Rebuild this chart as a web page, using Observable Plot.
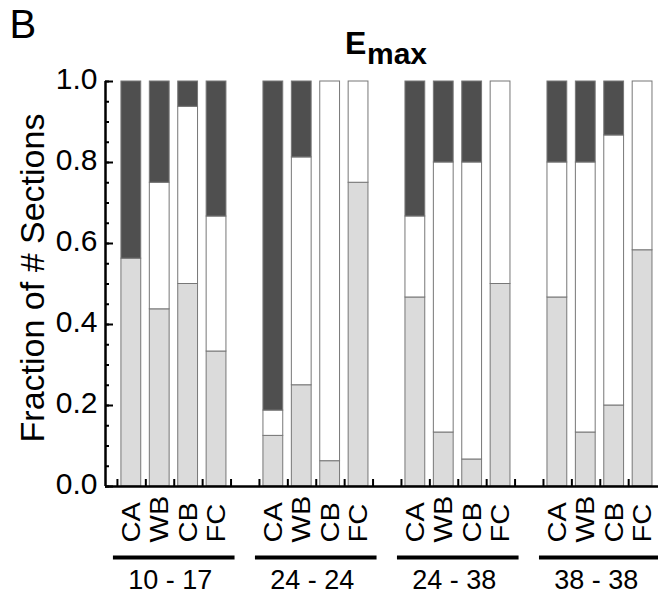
<!DOCTYPE html>
<html><head><meta charset="utf-8">
<script src="https://cdn.jsdelivr.net/npm/d3@7"></script>
<script src="https://cdn.jsdelivr.net/npm/@observablehq/plot@0.6"></script>
<style>body{margin:0;background:#fff;} #chart{position:relative;width:658px;height:594px;}</style>
</head><body><div id="chart"></div>
<script>
// ---- data ----
const groups = ["10 - 17", "24 - 24", "24 - 38", "38 - 38"];
const regions = ["CA", "WB", "CB", "FC"];
// fractions per bar (group-major order), bottom -> top
const lightFrac = [0.5625, 0.4375, 0.5,    0.3333, 0.125,  0.25,   0.0625, 0.75, 0.4667, 0.1333, 0.0667, 0.5, 0.4667, 0.1333, 0.2,    0.5833];
const whiteFrac = [0,      0.3125, 0.4375, 0.3333, 0.0625, 0.5625, 0.9375, 0.25, 0.2,    0.6667, 0.7333, 0.5, 0.3333, 0.6667, 0.6667, 0.4167];
const darkFrac  = [0.4375, 0.25,   0.0625, 0.3334, 0.8125, 0.1875, 0,      0,    0.3333, 0.2,    0.2,    0,   0.2,    0.2,    0.1333, 0];
const yTicksMajor = [0, 0.2, 0.4, 0.6, 0.8, 1.0];
const yTickLabels = ["0.0", "0.2", "0.4", "0.6", "0.8", "1.0"];
const yTicksMinor = d3.range(0, 21).map(i => i / 20);
const yTitle = "Fraction of # Sections";
const panelLetter = "B";
const titleMain = "E";
const titleSub = "max";

// ---- styles ----
const fillOf = {light: "#dbdbdb", white: "#ffffff", dark: "#4f4f4f"};
const stride = regions.length + 1; // one empty slot between groups

const segs = [];
const barRows = [];
const groupRows = [];
groups.forEach((g, gi) => {
  groupRows.push({group: g, first: gi * stride, last: gi * stride + regions.length - 1});
  regions.forEach((r, ri) => {
    const i = gi * regions.length + ri;
    const slot = gi * stride + ri;
    barRows.push({group: g, region: r, slot});
    let base = 0;
    [["light", lightFrac[i]], ["white", whiteFrac[i]], ["dark", darkFrac[i]]].forEach(([k, v]) => {
      if (v > 0) segs.push({slot, kind: k, y1: base, y2: Math.min(1, base + v)});
      base += v;
    });
  });
});

const nSlots = groups.length * stride - 1;
const xDomain = [-0.42, nSlots + 0.05];

const plot = Plot.plot({
  width: 658, height: 594,
  marginLeft: 105, marginRight: 0, marginTop: 81, marginBottom: 108,
  style: {fontFamily: "'Liberation Sans', Arial, Helvetica, sans-serif", background: "#fff", color: "#000", overflow: "visible"},
  x: {domain: xDomain, label: null},
  y: {domain: [0, 1], label: null},
  marks: [
    Plot.rect(segs, {x1: "slot", x2: d => d.slot + 1, y1: "y1", y2: "y2",
      fill: d => fillOf[d.kind], stroke: "#777777", strokeWidth: 1, insetLeft: 4, insetRight: 4.6}),
    // axes
    Plot.axisY({ticks: yTicksMinor, tickSize: -4, strokeWidth: 2, tickFormat: () => "", label: null}),
    Plot.axisY({ticks: yTicksMajor, tickSize: -8, strokeWidth: 2, tickFormat: () => "", label: null}),
    Plot.axisY({ticks: yTicksMajor, tickSize: 0, tickPadding: 8, fontSize: 30, dy: -2, label: null,
      tickFormat: d => yTickLabels[yTicksMajor.indexOf(d)]}),
    Plot.axisX({ticks: d3.range(0, nSlots), tickSize: -7, strokeWidth: 2, tickFormat: () => "", label: null}),
    Plot.ruleX([xDomain[0]], {strokeWidth: 2.5}),
    Plot.ruleY([0], {strokeWidth: 2.5}),
    // category labels
    Plot.text(barRows, {x: d => d.slot + 0.5, text: "region", frameAnchor: "bottom", rotate: -90,
      textAnchor: "start", lineAnchor: "middle", dy: 56, fontSize: 26}),
    // group underlines and labels
    Plot.ruleY(groupRows, {x1: "first", x2: d => d.last + 1, y: d => 0, dy: 71, strokeWidth: 4,
      insetLeft: -4, insetRight: -4}),
    Plot.text(groupRows, {x: d => (d.first + d.last + 1) / 2, text: "group", frameAnchor: "bottom",
      lineAnchor: "bottom", dy: 102, dx: -4, fontSize: 27}),
    // y title
    Plot.text([yTitle], {frameAnchor: "left", rotate: -90, textAnchor: "middle", lineAnchor: "bottom",
      dx: -62, dy: -6, fontSize: 34}),
    // panel letter and title
    Plot.text([panelLetter], {frameAnchor: "top-left", textAnchor: "start", lineAnchor: "bottom",
      dx: -96, dy: -44, fontSize: 40}),
    Plot.text([titleMain], {frameAnchor: "top", textAnchor: "start", lineAnchor: "bottom",
      dx: -37, dy: -28, fontSize: 32, fontWeight: "bold"}),
    Plot.text([titleSub], {frameAnchor: "top", textAnchor: "start", lineAnchor: "bottom",
      dx: -15, dy: -18, fontSize: 30, fontWeight: "bold"})
  ]
});

// stretch the rotated category labels along their reading direction, as in the reference
d3.select(plot).selectAll("text").each(function() {
  const t = this.textContent;
  if (!regions.includes(t)) return;
  let tr = this.getAttribute("transform");
  if (!tr) {
    const x = this.getAttribute("x") || 0, y = this.getAttribute("y") || 0;
    this.removeAttribute("x"); this.removeAttribute("y");
    tr = `translate(${x},${y})`;
  }
  this.setAttribute("transform", tr + " scale(1.12,1)");
});

document.getElementById("chart").appendChild(plot);
</script>
</body></html>
